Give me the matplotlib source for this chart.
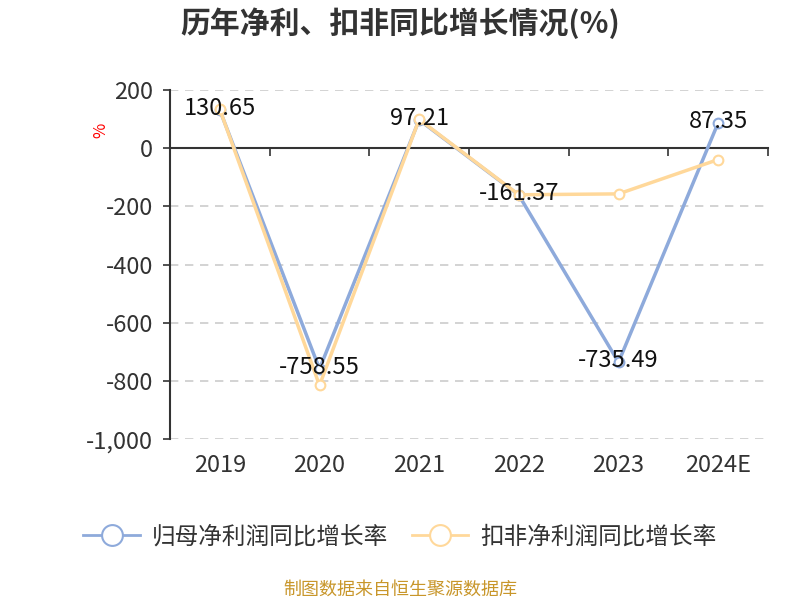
import matplotlib
matplotlib.use('Agg')
import matplotlib.pyplot as plt
import matplotlib.transforms as mtransforms
from matplotlib.lines import Line2D

plt.rcParams['font.family'] = ['Noto Sans CJK SC', 'DejaVu Sans']

years = ['2019', '2020', '2021', '2022', '2023', '2024E']
net_profit = [130.65, -758.55, 97.21, -161.37, -735.49, 87.35]
deducted = [133.0, -815.0, 99.0, -160.0, -157.0, -39.0]
yticks = [-1000, -800, -600, -400, -200, 0, 200]
ytick_labels = ['-1,000', '-800', '-600', '-400', '-200', '0', '200']

blue = '#8eaadb'
orange = '#ffd89a'

fig = plt.figure(figsize=(8, 6), dpi=100)
ax = fig.add_axes([0.2125, 0.268, 0.7475, 0.582])

x = list(range(len(years)))
ax.plot(x, net_profit, color=blue, lw=2.5, marker='o', ms=7, mfc='white',
        mec=blue, mew=1.5, zorder=3)
ax.plot(x, deducted, color=orange, lw=2.5, marker='o', ms=7, mfc='white',
        mec=orange, mew=1.5, zorder=4)

for xi, v in zip(x, net_profit):
    ax.text(xi, v + 6, f'{v:.2f}', ha='center', va='center', fontsize=17,
            color='#111111', zorder=5)

ax.set_xlim(-0.5, len(years) - 0.5)
ax.set_ylim(-1000, 200)
ax.set_yticks(yticks)
ax.set_yticklabels(ytick_labels, fontsize=17, color='#333333')
ax.tick_params(axis='y', length=5, width=1.2, color='#333333', pad=7)

for t in yticks:
    if t != 0:
        ax.axhline(t, color='#cccccc', lw=1.2, ls=(0, (5, 4)), zorder=1)

for s in ['top', 'right']:
    ax.spines[s].set_visible(False)
ax.spines['left'].set_color('#333333')
ax.spines['left'].set_linewidth(1.5)
ax.spines['bottom'].set_position(('data', 0))
ax.spines['bottom'].set_color('#333333')
ax.spines['bottom'].set_linewidth(1.5)

ax.set_xticks([i - 0.5 for i in range(len(years) + 1)])
ax.set_xticklabels([])
ax.tick_params(axis='x', direction='out', length=6, width=1.2, color='#333333')

trans = mtransforms.blended_transform_factory(ax.transData, ax.transAxes)
for xi, lab in zip(x, years):
    ax.text(xi, -0.075, lab, transform=trans, ha='center', va='center',
            fontsize=17, color='#333333')

ax.text(-0.115, 0.885, '%', transform=ax.transAxes, rotation=90, color='red',
        fontsize=12, ha='center', va='center')

fig.text(0.5, 0.962, '历年净利、扣非同比增长情况(%)', ha='center', va='center',
         fontsize=21.5, fontweight='bold', color='#333333')

handles = [
    Line2D([], [], color=blue, lw=2, marker='o', ms=15, mfc='white', mec=blue, mew=1.5),
    Line2D([], [], color=orange, lw=2, marker='o', ms=15, mfc='white', mec=orange, mew=1.5),
]
fig.legend(handles, ['归母净利润同比增长率', '扣非净利润同比增长率'], loc='center',
           bbox_to_anchor=(0.5, 0.105), ncol=2, frameon=False, fontsize=17,
           handlelength=2.4, columnspacing=1.0, handletextpad=0.5,
           labelcolor='#333333')

fig.text(0.5, 0.017, '制图数据来自恒生聚源数据库', ha='center', va='center',
         fontsize=13, color='#c8962a')

fig.savefig('out.png', dpi=100)
